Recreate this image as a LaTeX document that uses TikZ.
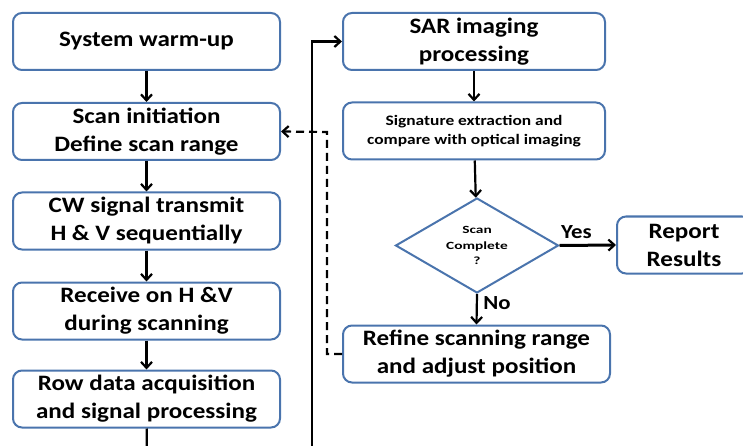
\documentclass[tikz,border=0pt]{standalone}
\usepackage{fontspec}
\setmainfont{Carlito}[FakeStretch=1.14]
\usetikzlibrary{arrows.meta,shapes.geometric}
\definecolor{boxblue}{HTML}{4A74AD}
\tikzset{
  x=1pt, y=-1pt,
  flowbox/.style={draw=boxblue, line width=2pt, rounded corners=9pt, fill=white,
    minimum height=57pt, align=center, font=\bfseries\fontsize{22}{28}\selectfont, inner sep=0pt},
  leftbox/.style={flowbox, minimum width=267pt},
  rightbox/.style={flowbox, minimum width=262pt},
  decision/.style={draw=boxblue, line width=2pt, diamond, aspect=1.7, fill=white,
    minimum width=163pt, minimum height=95pt, inner sep=0pt, align=center,
    font=\bfseries\fontsize{11}{15.5}\selectfont\addfontfeatures{FakeStretch=1.4}},
  flow/.style={line width=2.2pt, -{Straight Barb[length=6pt,width=11pt,line width=2.2pt]}},
  plain/.style={line width=2.2pt},
  feedback/.style={line width=2.2pt, dash pattern=on 8pt off 5pt,
    -{Straight Barb[length=6pt,width=11pt,line width=2.2pt]}},
  tag/.style={font=\bfseries\fontsize{20}{22}\selectfont}
}
\begin{document}
\begin{tikzpicture}
\useasboundingbox (0,0) rectangle (743,446);
\clip (0,0) rectangle (743,446);

% left column: acquisition chain
\node[leftbox] (warm) at (146.5,41.5) {System warm-up};
\node[leftbox] (scan) at (146.5,131.5) {Scan initiation\\Define scan range};
\node[leftbox] (cw)   at (146.5,221) {CW signal transmit\\H \& V sequentially};
\node[leftbox] (recv) at (146.5,311) {Receive on H \&V\\during scanning};
\node[leftbox] (row)  at (146.5,399) {Row data acquisition\\and signal processing};

% right column: processing and decision
\node[rightbox] (sar) at (474,41.5) {SAR imaging\\processing};
\node[rightbox, font=\bfseries\fontsize{14.5}{19}\selectfont\addfontfeatures{FakeStretch=1.2}] (sig) at (474,131)
  {Signature extraction and\\compare with optical imaging};
\node[decision] (done) at (477,245.5) {Scan\\Complete\\?};
\node[flowbox, minimum width=134pt] (report) at (684,245) {Report\\Results};
\node[flowbox, minimum width=267pt] (refine) at (476.5,354) {Refine scanning range\\and adjust position};

% off-page ends of the loop back to processing
\coordinate (rowout) at (147,470);
\coordinate (loopin) at (312,470);
\coordinate (fbup) at (327,132);

% connectors
\draw[flow] (warm) -- (scan);
\draw[flow] (scan) -- (cw);
\draw[flow] (cw) -- (recv);
\draw[flow] (recv) -- (row);
\draw[plain] (row) -- (rowout);
\draw[flow] (loopin) |- (sar.west);
\draw[flow] (sar) -- (sig);
\draw[flow] (sig) -- (done);
\draw[flow, line width=3pt] (done.east) -- node[tag, above=2pt, pos=0.3] {Yes} (report.west);
\draw[flow] (done.south) -- node[tag, right=2pt, pos=0.3] {No} (refine.north);
\draw[feedback] (refine.west) -| (fbup) -- (scan.east);
\end{tikzpicture}
\end{document}
